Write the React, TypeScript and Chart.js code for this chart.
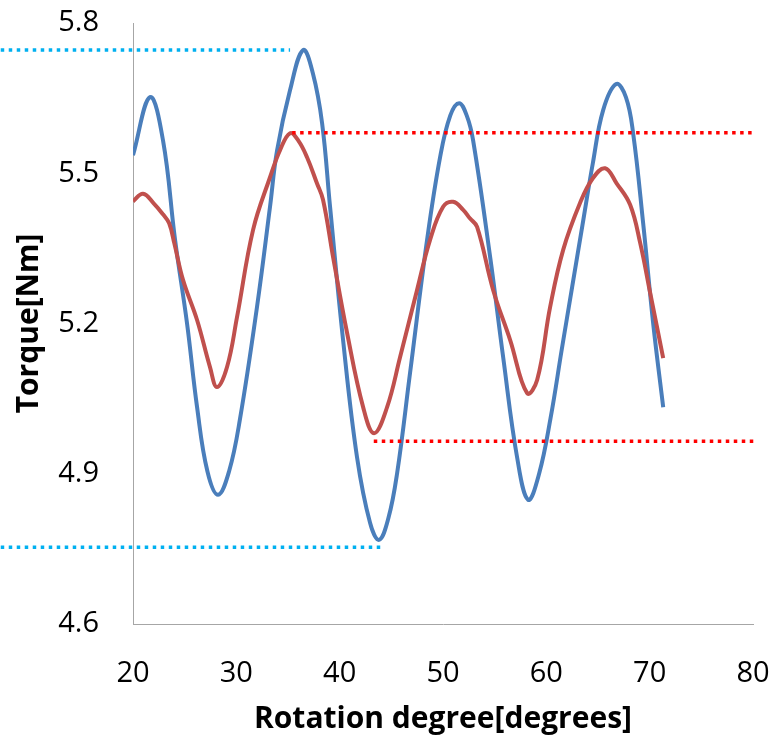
import React, { useEffect, useRef } from "react";
import { Chart, registerables } from "chart.js";

Chart.register(...registerables);

// Blue series (rotation degree, torque)
const blueX = [20.0, 21.65, 22.9, 24.07, 25.23, 26.2, 27.2, 28.23, 29.3, 30.36, 32.0, 33.26, 33.94, 35.2, 36.46, 37.4, 38.3, 39.07, 40.33, 41.68, 42.94, 43.81, 44.7, 45.56, 46.81, 48.46, 49.72, 50.7, 51.56, 52.3, 52.91, 54.56, 55.82, 57.17, 58.24, 59.3, 60.4, 61.5, 62.5, 63.5, 64.5, 65.5, 66.76, 67.7, 68.4, 69.37, 70.34, 71.31];
const blueY = [5.536, 5.652, 5.566, 5.367, 5.2, 5.033, 4.905, 4.858, 4.905, 5.01, 5.233, 5.433, 5.545, 5.666, 5.746, 5.7, 5.6, 5.433, 5.167, 4.933, 4.802, 4.768, 4.81, 4.901, 5.101, 5.367, 5.532, 5.615, 5.64, 5.615, 5.566, 5.333, 5.133, 4.933, 4.848, 4.9, 5.01, 5.149, 5.273, 5.397, 5.52, 5.626, 5.678, 5.652, 5.58, 5.4, 5.2, 5.033];

// Red series
const redX = [20.0, 20.97, 22.0, 22.9, 23.5, 24.0, 24.84, 26.2, 27.45, 28.13, 29.1, 30.07, 31.62, 33.26, 34.23, 35.2, 36.0, 36.84, 37.8, 38.39, 39.36, 40.72, 42.27, 43.33, 44.59, 45.85, 47.49, 48.75, 50.01, 50.98, 51.95, 52.6, 53.3, 54.85, 56.5, 58.14, 59.11, 60.37, 61.63, 63.27, 64.5, 65.69, 66.8, 68.11, 69.08, 70.05, 71.31];
const redY = [5.444, 5.459, 5.44, 5.418, 5.4, 5.36, 5.287, 5.207, 5.113, 5.073, 5.113, 5.213, 5.387, 5.492, 5.546, 5.58, 5.565, 5.532, 5.48, 5.447, 5.333, 5.181, 5.033, 4.981, 5.033, 5.133, 5.267, 5.367, 5.433, 5.443, 5.427, 5.41, 5.393, 5.267, 5.167, 5.061, 5.087, 5.233, 5.347, 5.441, 5.49, 5.51, 5.48, 5.437, 5.361, 5.261, 5.131];

// Reference (dotted) lines: [startX, endX, value]
const blueMaxLine = [7.2, 35.2, 5.746];
const blueMinLine = [7.2, 44.2, 4.753];
const redMaxLine = [35.4, 80.3, 5.581];
const redMinLine = [43.3, 80.3, 4.965];

const xTicks = [20, 30, 40, 50, 60, 70, 80];
const yTicks = [4.6, 4.9, 5.2, 5.5, 5.8];

const xTitle = "Rotation degree[degrees]";
const yTitle = "Torque[Nm]";

const toPts = (xs: number[], ys: number[]) => xs.map((x, i) => ({ x, y: ys[i] }));
const refPts = (l: number[]) => [
  { x: l[0], y: l[2] },
  { x: l[1], y: l[2] },
];

const FONT = '"Open Sans", "DejaVu Sans", sans-serif';

const yTitlePlugin = {
  id: "yTitlePlugin",
  afterDraw(chart: any) {
    const ctx = chart.ctx;
    const area = chart.chartArea;
    ctx.save();
    ctx.translate(29, (area.top + area.bottom) / 2);
    ctx.rotate(-Math.PI / 2);
    ctx.font = `bold 30px ${FONT}`;
    ctx.textAlign = "center";
    ctx.textBaseline = "middle";
    ctx.fillStyle = "#000000";
    ctx.fillText(yTitle, 0, 0);
    ctx.restore();
  },
};

const zeroPad = (s: any) => {
  s.paddingTop = 0;
  s.paddingBottom = 0;
  s.paddingLeft = 0;
  s.paddingRight = 0;
};

export default function App() {
  const ref = useRef<HTMLCanvasElement | null>(null);

  useEffect(() => {
    if (!ref.current) return;
    const dotted = (data: any[], color: string) => ({
      data,
      borderColor: color,
      borderWidth: 3.5,
      borderDash: [3.5, 4.5],
      pointRadius: 0,
      fill: false,
      clip: false as any,
      order: 0,
    });
    const chart = new Chart(ref.current, {
      type: "line",
      data: {
        datasets: [
          dotted(refPts(blueMaxLine), "#00b0f0"),
          dotted(refPts(blueMinLine), "#00b0f0"),
          dotted(refPts(redMaxLine), "#ff0000"),
          dotted(refPts(redMinLine), "#ff0000"),
          {
            data: toPts(redX, redY),
            borderColor: "#c0504d",
            borderWidth: 4,
            pointRadius: 0,
            tension: 0.4,
            fill: false,
            order: 1,
          },
          {
            data: toPts(blueX, blueY),
            borderColor: "#4a7ebb",
            borderWidth: 4,
            pointRadius: 0,
            tension: 0.4,
            fill: false,
            order: 2,
          },
        ],
      },
      options: {
        animation: false,
        responsive: false,
        devicePixelRatio: 1,
        layout: { padding: { left: 0, right: 18, top: 23, bottom: 0 } },
        plugins: { legend: { display: false }, tooltip: { enabled: false } },
        scales: {
          x: {
            type: "linear",
            min: 20,
            max: 80,
            afterBuildTicks: (s: any) => {
              s.ticks = xTicks.map((v) => ({ value: v }));
            },
            afterFit: (s: any) => {
              s.height = 115;
              zeroPad(s);
            },
            grid: { display: false, drawTicks: false },
            border: { display: true, color: "#a6a6a6", width: 1 },
            ticks: {
              color: "#000000",
              font: { family: FONT, size: 29 },
              padding: 32,
              maxRotation: 0,
            },
            title: {
              display: true,
              text: xTitle,
              color: "#000000",
              font: { family: FONT, size: 30, weight: "bold" },
              padding: { top: 0, bottom: 2 },
            },
          },
          y: {
            type: "linear",
            min: 4.6,
            max: 5.8,
            afterBuildTicks: (s: any) => {
              s.ticks = yTicks.map((v) => ({ value: v }));
            },
            afterFit: (s: any) => {
              s.width = 133;
              zeroPad(s);
            },
            grid: { display: false, drawTicks: false },
            border: { display: true, color: "#a6a6a6", width: 1 },
            ticks: {
              color: "#000000",
              font: { family: FONT, size: 29 },
              padding: 34,
              callback: (v: any) => Number(v).toFixed(1),
            },
          },
        },
      },
      plugins: [yTitlePlugin],
    });
    return () => chart.destroy();
  }, []);

  return (
    <div style={{ position: "absolute", left: 0, top: 0, width: 771, height: 739 }}>
      <canvas ref={ref} width={771} height={739} style={{ display: "block" }} />
    </div>
  );
}
